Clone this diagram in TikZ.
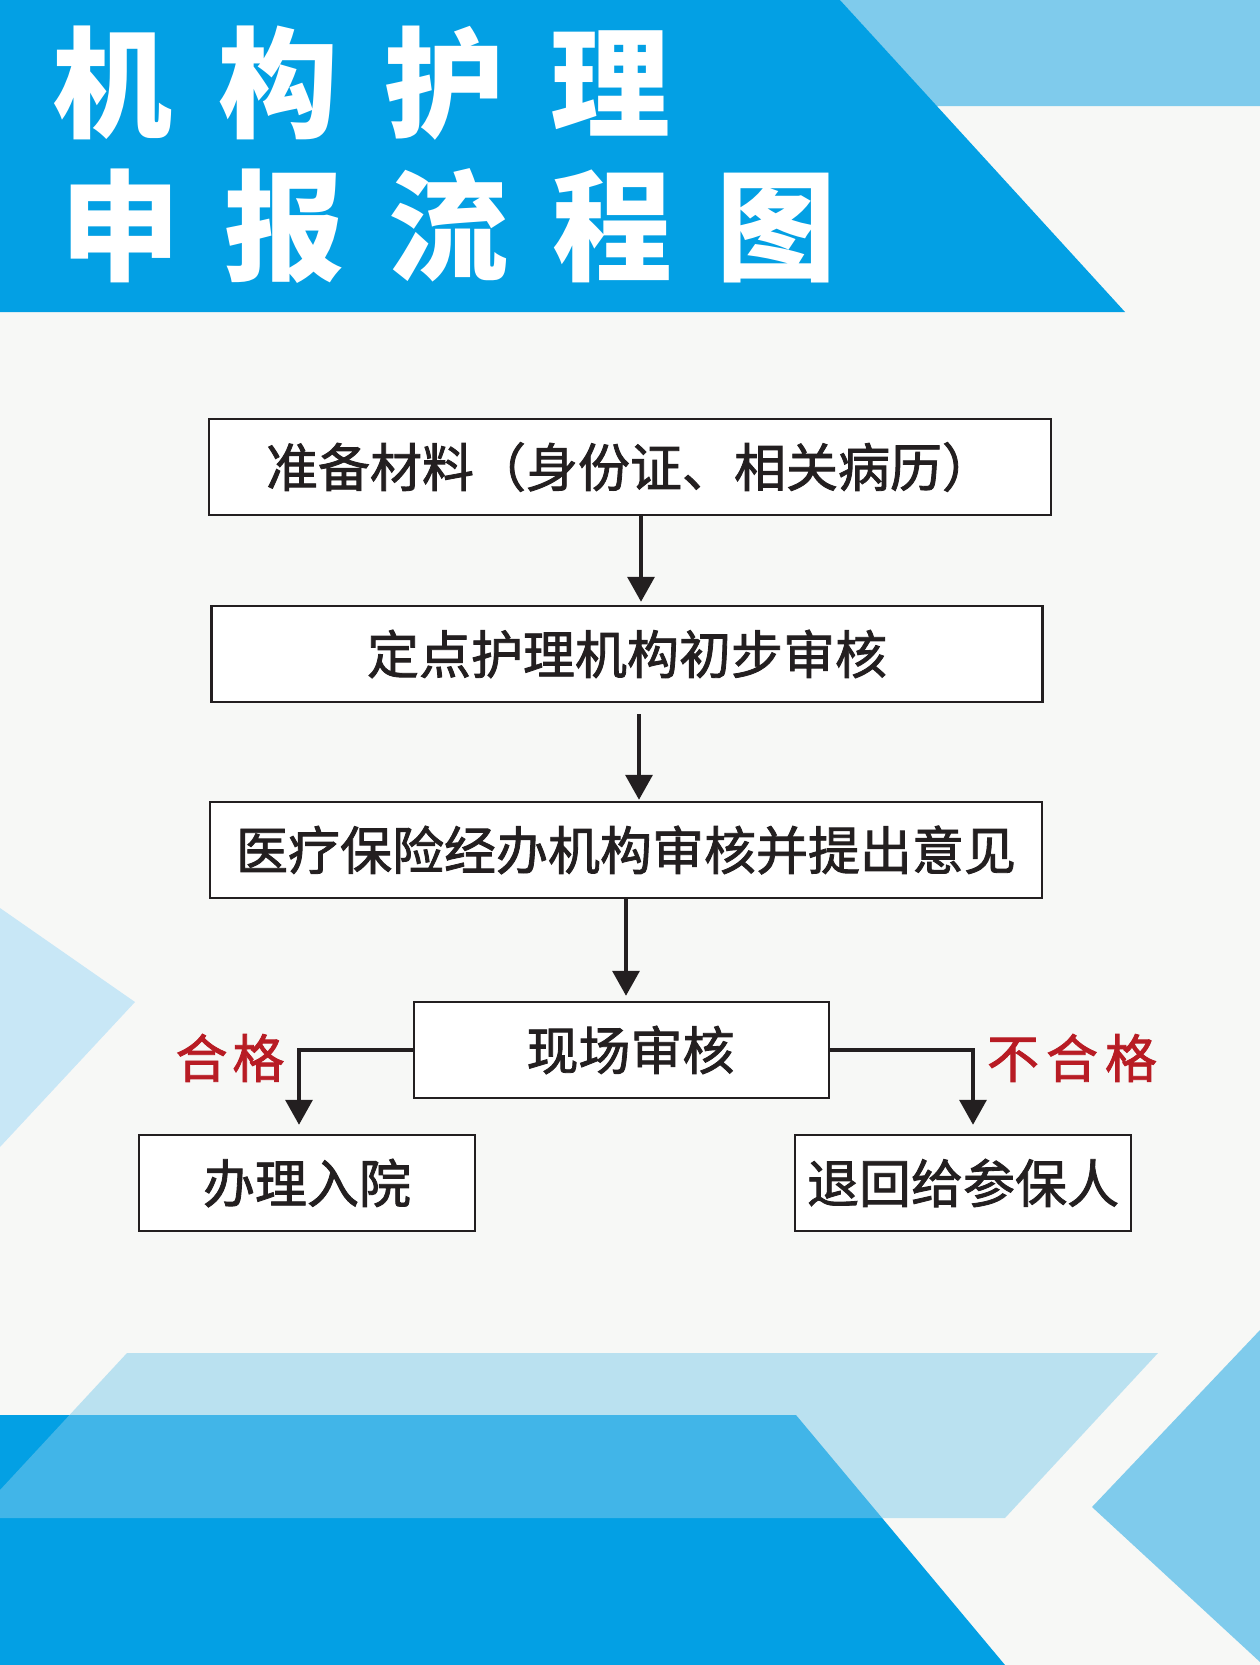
\documentclass[tikz,border=0pt]{standalone}
\usepackage{fontspec}
\newfontfamily\cjk{Noto Sans CJK SC}
\newfontfamily\cjkfb{Noto Sans CJK SC}[FakeBold=1.6]
\usetikzlibrary{arrows.meta,calc}
\definecolor{bgc}{RGB}{247,248,246}
\definecolor{mainblue}{RGB}{3,160,228}
\definecolor{lightblue}{RGB}{127,203,236}
\definecolor{paleblue}{RGB}{200,231,246}
\definecolor{inkc}{RGB}{35,31,32}
\definecolor{redc}{RGB}{184,28,36}
\tikzset{
  stepbox/.style={draw=inkc,line width=2.5pt,fill=white,minimum height=96pt,inner sep=0pt,
    font=\cjkfb\fontsize{52}{52}\selectfont,text=inkc,anchor=center},
  arr/.style={draw=inkc,line width=3.5pt,-{Triangle[width=27pt,length=25pt]}},
  titletext/.style={text=white,inner sep=0pt,anchor=west,font=\cjk\bfseries\fontsize{120}{120}\selectfont},
  redlabel/.style={text=redc,inner sep=0pt,font=\cjkfb\fontsize{52}{52}\selectfont}
}
\begin{document}
\begin{tikzpicture}[x=1pt,y=-1pt]
\useasboundingbox (0,0) rectangle (1260,1665);
\fill[bgc] (0,0) rectangle (1260,1665);
% header
\fill[lightblue] (840,0) -- (1260,0) -- (1260,106) -- (936,106) -- cycle;
\fill[mainblue] (0,0) -- (840,0) -- (1125,312) -- (0,312) -- cycle;
\node[titletext] (t1) at (52,83) {机\hspace{46pt}构\hspace{46pt}护\hspace{46pt}理};
\node[titletext] (t2) at (60,226) {申\hspace{44pt}报\hspace{44pt}流\hspace{44pt}程\hspace{44pt}图};
% left triangle
\fill[paleblue] (0,908) -- (135,1002) -- (0,1147) -- cycle;
% bottom decoration
\fill[mainblue] (0,1415) -- (796,1415) -- (1005,1665) -- (0,1665) -- cycle;
\fill[lightblue,opacity=0.5] (127,1353) -- (1158,1353) -- (1005,1518) -- (0,1518) -- (0,1490) -- cycle;
\fill[lightblue] (1260,1330) -- (1092,1507) -- (1260,1662) -- cycle;
% boxes
\node[stepbox,minimum width=842pt] (b1) at (630,467) {准备材料（身份证、相关病历）\hspace{18pt}};
\node[stepbox,minimum width=831pt] (b2) at (627,654) {定点护理机构初步审核};
\node[stepbox,minimum width=832pt] (b3) at (626,850) {医疗保险经办机构审核并提出意见};
\node[stepbox,minimum width=415pt] (b4) at (621.5,1050) {\hspace{18pt}现场审核};
\node[stepbox,minimum width=336pt] (b5) at (307,1183) {办理入院\hspace{10pt}};
\node[stepbox,minimum width=336pt] (b6) at (963,1183) {退回给参保人};
% connectors
\draw[arr,shorten >=3pt] ([xshift=11pt]b1.south) -- ([xshift=11pt]b1.south |- b2.north);
\draw[arr,shorten >=1pt] ([xshift=12pt,yshift=-11pt]b2.south) -- ([xshift=12pt]b2.south |- b3.north);
\draw[arr,shorten >=5pt] (b3.south) -- (b3.south |- b4.north);
\draw[arr,shorten >=9pt] (b4.west) -| ([xshift=-8pt]b5.north);
\draw[arr,shorten >=9pt] (b4.east) -| ([xshift=10pt]b6.north);
% labels
\node[redlabel] (l1) at (230,1058) {合\hspace{5pt}格};
\node[redlabel] (l2) at (1072,1058) {不\hspace{7pt}合\hspace{7pt}格};
\end{tikzpicture}
\end{document}
